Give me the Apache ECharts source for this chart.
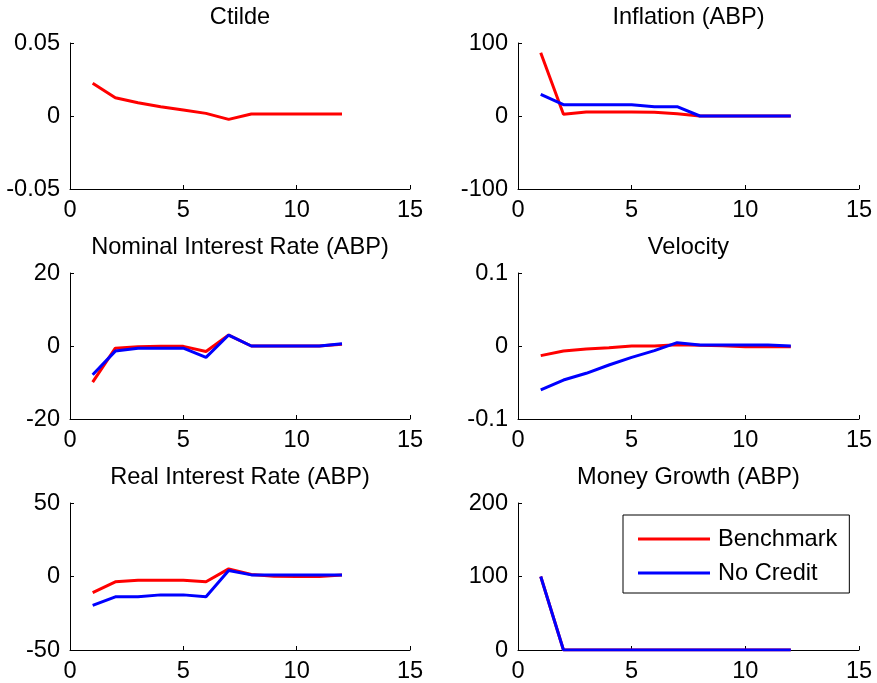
<!DOCTYPE html>
<html>
<head>
<meta charset="utf-8">
<script src="https://cdn.jsdelivr.net/npm/echarts@6/dist/echarts.min.js"></script>
<style>
  html, body { margin: 0; padding: 0; background: #fff; }
  #chart { width: 877px; height: 683px; }
</style>
</head>
<body>
<div id="chart"></div>
<script>
// Impulse responses over 12 periods
const periods = [1, 2, 3, 4, 5, 6, 7, 8, 9, 10, 11, 12];

const ctildeBench = [0.0224, 0.0125, 0.0091, 0.0064, 0.0041, 0.0018, -0.0023, 0.0014, 0.0014, 0.0014, 0.0014, 0.0014];

const inflationBench = [86.7, 2.3, 5.5, 5.5, 5.5, 5.3, 3.0, 0, 0, 0, 0, 0];
const inflationNoCredit = [29.7, 15.5, 15.5, 15.5, 15.5, 12.8, 12.8, 0, 0, 0, 0, 0];

const nominalBench = [-9.9, -0.6, -0.2, -0.1, -0.1, -1.5, 3.0, 0, 0, 0, 0, 0.5];
const nominalNoCredit = [-7.9, -1.4, -0.6, -0.6, -0.6, -3.1, 3.0, 0, 0, 0, 0, 0.6];

const velocityBench = [-0.0132, -0.0068, -0.004, -0.0023, 0, 0, 0.0018, 0.001, 0.0005, -0.001, -0.001, -0.001];
const velocityNoCredit = [-0.060, -0.0466, -0.0374, -0.026, -0.0155, -0.0064, 0.0046, 0.0014, 0.0014, 0.0014, 0.0014, 0];

const realBench = [-10.9, -3.6, -2.5, -2.5, -2.5, -3.6, 5.2, 1.4, 0.2, 0, 0, 1.1];
const realNoCredit = [-19.7, -13.8, -13.8, -12.5, -12.5, -13.8, 4.1, 1.1, 1.1, 1.1, 1.1, 1.1];

const moneyBench = [100, 0, 0, 0, 0, 0, 0, 0, 0, 0, 0, 0];
const moneyNoCredit = [100, 0, 0, 0, 0, 0, 0, 0, 0, 0, 0, 0];

const panelTitles = ['Ctilde', 'Inflation (ABP)', 'Nominal Interest Rate (ABP)', 'Velocity', 'Real Interest Rate (ABP)', 'Money Growth (ABP)'];
const yRanges = [
  { min: -0.05, max: 0.05, interval: 0.05 },
  { min: -100, max: 100, interval: 100 },
  { min: -20, max: 20, interval: 20 },
  { min: -0.1, max: 0.1, interval: 0.1 },
  { min: -50, max: 50, interval: 50 },
  { min: 0, max: 200, interval: 100 }
];
const panelSeries = [
  [ctildeBench, null],
  [inflationBench, inflationNoCredit],
  [nominalBench, nominalNoCredit],
  [velocityBench, velocityNoCredit],
  [realBench, realNoCredit],
  [moneyBench, moneyNoCredit]
];
const seriesNames = ['Benchmark', 'No Credit'];
const seriesColors = ['#ff0000', '#0000ff'];

const FONT = "'Liberation Sans', Arial, Helvetica, sans-serif";
const FS = 23.6;

const colLeft = [70, 518];
const colWidth = [340, 341];
const rowTop = [43, 273, 503];
const rowHeight = [146, 146, 147];

const grids = [], xAxes = [], yAxes = [], titles = [], series = [];

panelTitles.forEach((t, i) => {
  const col = i % 2, row = Math.floor(i / 2);
  grids.push({ left: colLeft[col], top: rowTop[row], width: colWidth[col], height: rowHeight[row] });
  titles.push({
    text: t,
    left: colLeft[col] + colWidth[col] / 2,
    top: rowTop[row] - 38,
    textAlign: 'center',
    padding: 0,
    textStyle: { fontFamily: FONT, fontSize: FS, fontWeight: 'normal', color: '#000' }
  });
  const axisCommon = {
    gridIndex: i,
    type: 'value',
    splitLine: { show: false },
    axisLine: { show: true, onZero: false, lineStyle: { color: '#000', width: 1 } },
    axisTick: { show: true, inside: true, length: 4, lineStyle: { color: '#000', width: 1 } },
    axisLabel: { fontFamily: FONT, fontSize: FS, color: '#000' }
  };
  xAxes.push(Object.assign({}, axisCommon, {
    min: 0, max: 15, interval: 5,
    axisLabel: Object.assign({}, axisCommon.axisLabel, { margin: 9 })
  }));
  yAxes.push(Object.assign({}, axisCommon, {
    min: yRanges[i].min, max: yRanges[i].max, interval: yRanges[i].interval,
    axisLabel: Object.assign({}, axisCommon.axisLabel, { margin: 10 })
  }));
  panelSeries[i].forEach((vals, k) => {
    if (!vals) return;
    series.push({
      name: seriesNames[k],
      type: 'line',
      xAxisIndex: i,
      yAxisIndex: i,
      data: periods.map((p, j) => [p, vals[j]]),
      symbol: 'none',
      lineStyle: { color: seriesColors[k], width: 3 },
      itemStyle: { color: seriesColors[k] },
      animation: false
    });
  });
});

const chart = echarts.init(document.getElementById('chart'), null, { renderer: 'canvas' });
chart.setOption({
  backgroundColor: '#fff',
  animation: false,
  title: titles,
  grid: grids,
  xAxis: xAxes,
  yAxis: yAxes,
  legend: {
    data: seriesNames,
    orient: 'vertical',
    left: 623,
    top: 515,
    width: 227,
    padding: [12, 12, 8, 15],
    icon: 'rect',
    itemWidth: 72,
    itemHeight: 3,
    itemGap: 10,
    borderColor: '#000',
    borderWidth: 1,
    backgroundColor: '#fff',
    selectedMode: false,
    textStyle: { fontFamily: FONT, fontSize: FS, color: '#000', lineHeight: 24, padding: [0, 0, 0, 3] }
  },
  series: series
});
</script>
</body>
</html>
